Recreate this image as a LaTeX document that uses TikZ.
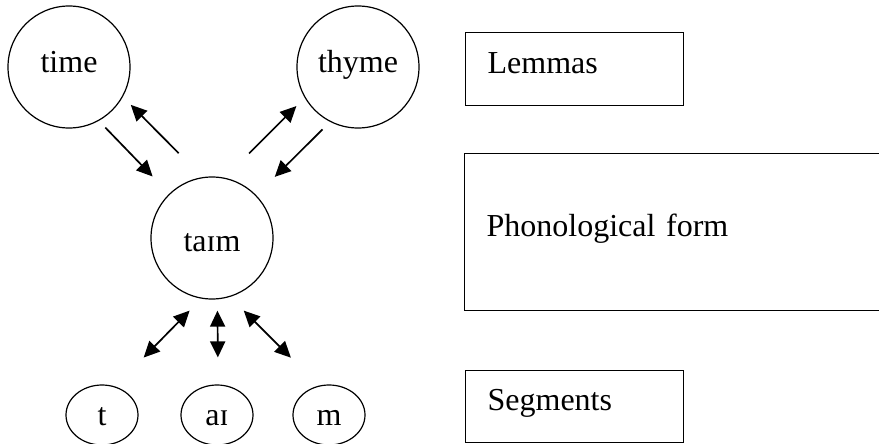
\documentclass[tikz,border=0pt]{standalone}
\usepackage{fontspec}
\setmainfont{Liberation Serif}
\usetikzlibrary{arrows.meta,shapes.geometric}

\begin{document}
\begin{tikzpicture}[x=1pt,y=-1pt,>={Triangle[length=16pt,width=15pt]},
    lemma node/.style={circle,draw,line width=1.2pt,minimum size=122pt,
      font=\fontsize{32}{38}\selectfont,text height=12pt,text depth=0pt},
    form node/.style={lemma node,text height=26pt},
    seg node/.style={ellipse,draw,line width=1.2pt,minimum width=72pt,
      minimum height=60pt,font=\fontsize{32}{38}\selectfont,
      text height=20pt,text depth=0pt},
    level node/.style={rectangle,draw,line width=1.2pt,anchor=north west,
      font=\fontsize{32}{38}\selectfont,align=left,inner xsep=22pt,
      text height=22pt,text depth=14pt}]

    \useasboundingbox (0,0) rectangle (879,444);
    \clip (0,0) rectangle (879,444);

    \node[lemma node] (TI) at (69,67) {time};
    \node[lemma node] (TH) at (358,67) {thyme};
    \node[form node] (TM) at (212,238) {taɪm};
    \node[seg node] (ST) at (102,415) {t};
    \node[seg node] (SA) at (217,415) {aɪ};
    \node[seg node] (SM) at (329,415) {m};

    \node[level node,text width=174pt,minimum height=73pt] (LEM) at (465,32) {Lemmas};
    \node[level node,text width=392pt,minimum height=157pt] (PHF) at (464,153) {Phonological form};
    \node[level node,text width=174pt,minimum height=72pt] (SEG) at (465,370) {Segments};

    \path[->,line width=1.7pt]
    (TI.-61) edge [shorten <=9.3pt,shorten >=23.9pt] (TM.134)
    (TM.99.6) edge [shorten <=33.7pt,shorten >=11.2pt] (TI.-29.5)
    (TM.78) edge [shorten <=34.4pt,shorten >=11.7pt] (TH.210.2)
    (TH.243.3) edge [shorten <=10.7pt,shorten >=26pt] (TM.44.6)
    (TM.260.3) edge [<->,shorten <=16.7pt,shorten >=40.5pt] (ST.65.8)
    (TM.275.6) edge [<->,shorten <=11.3pt,shorten >=27pt] (SA.88)
    (TM.287.6) edge [<->,shorten <=19.4pt,shorten >=39.5pt] (SM.109.7)
    ;
\end{tikzpicture}
\end{document}
